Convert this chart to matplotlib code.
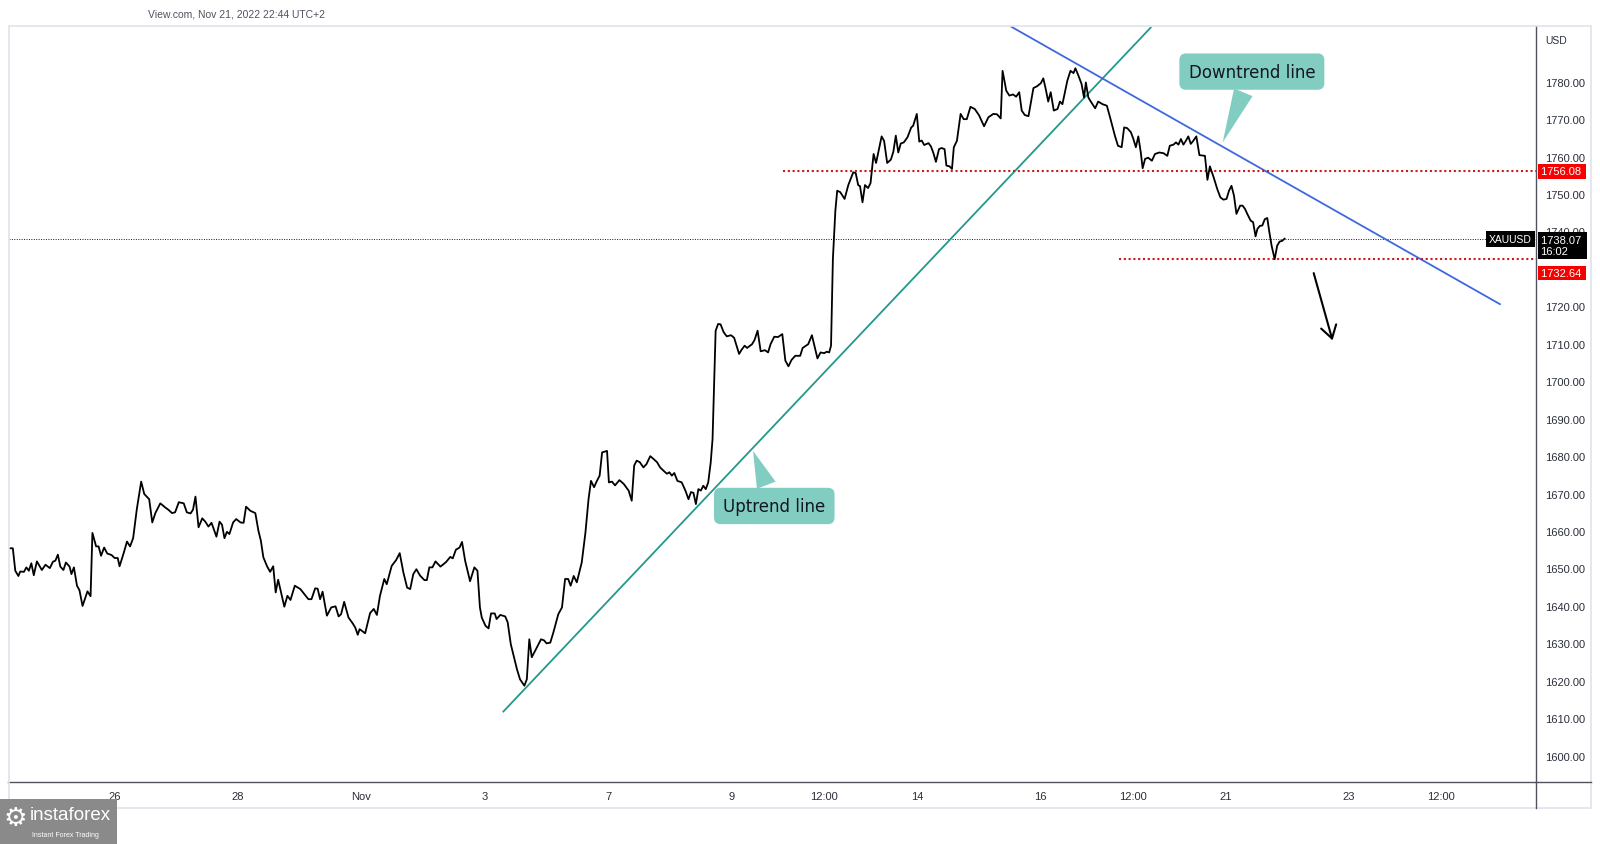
import matplotlib
matplotlib.use("Agg")
import matplotlib.pyplot as plt
import matplotlib.transforms as mtransforms
from matplotlib.patches import Rectangle
from matplotlib.lines import Line2D

# time axis in trading days, 0 = Oct 26 (weekends removed)
t_days = [
    -1.70, -1.65, -1.61, -1.56, -1.53, -1.47, -1.43, -1.39, -1.35, -1.31,
    -1.26, -1.18, -1.12, -1.05, -1.00, -0.96, -0.92, -0.88, -0.83, -0.79,
    -0.73, -0.70, -0.66, -0.61, -0.57, -0.52, -0.44, -0.39, -0.36, -0.30,
    -0.26, -0.22, -0.17, -0.12, -0.05, 0.00, 0.05, 0.08, 0.15, 0.20,
    0.25, 0.30, 0.36, 0.43, 0.48, 0.56, 0.61, 0.66, 0.74, 0.82,
    0.87, 0.93, 0.98, 1.04, 1.12, 1.17, 1.23, 1.27, 1.31, 1.36,
    1.42, 1.47, 1.52, 1.57, 1.65, 1.70, 1.74, 1.78, 1.82, 1.86,
    1.92, 1.97, 2.04, 2.09, 2.13, 2.20, 2.28, 2.33, 2.37, 2.41,
    2.47, 2.52, 2.57, 2.61, 2.65, 2.75, 2.80, 2.85, 2.92, 3.01,
    3.14, 3.19, 3.25, 3.29, 3.33, 3.37, 3.44, 3.51, 3.58, 3.63,
    3.67, 3.72, 3.79, 3.86, 3.90, 3.94, 3.97, 4.06, 4.14, 4.20,
    4.25, 4.30, 4.37, 4.41, 4.49, 4.56, 4.62, 4.68, 4.74, 4.79,
    4.84, 4.89, 4.95, 5.02, 5.06, 5.10, 5.15, 5.20, 5.28, 5.37,
    5.44, 5.48, 5.53, 5.59, 5.63, 5.68, 5.76, 5.83, 5.88, 5.92,
    5.95, 6.01, 6.06, 6.10, 6.16, 6.19, 6.25, 6.33, 6.37, 6.42,
    6.52, 6.57, 6.64, 6.68, 6.72, 6.76, 6.83, 6.91, 6.96, 7.00,
    7.06, 7.11, 7.19, 7.25, 7.30, 7.35, 7.39, 7.44, 7.49, 7.57,
    7.63, 7.68, 7.72, 7.77, 7.81, 7.86, 7.90, 7.98, 8.01, 8.06,
    8.11, 8.18, 8.25, 8.33, 8.38, 8.42, 8.46, 8.51, 8.57, 8.62,
    8.68, 8.73, 8.79, 8.84, 8.89, 8.95, 8.99, 9.03, 9.07, 9.12,
    9.19, 9.25, 9.30, 9.34, 9.38, 9.42, 9.46, 9.50, 9.54, 9.58,
    9.62, 9.66, 9.69, 9.72, 9.74, 9.78, 9.82, 9.87, 9.92, 9.99,
    10.04, 10.12, 10.16, 10.21, 10.25, 10.33, 10.37, 10.42, 10.47, 10.54,
    10.59, 10.63, 10.69, 10.75, 10.82, 10.87, 10.92, 10.97, 11.03, 11.11,
    11.15, 11.24, 11.30, 11.34, 11.39, 11.44, 11.50, 11.54, 11.58, 11.61,
    11.64, 11.68, 11.71, 11.76, 11.83, 11.89, 11.97, 12.01, 12.05, 12.08,
    12.12, 12.16, 12.21, 12.25, 12.30, 12.34, 12.39, 12.43, 12.47, 12.52,
    12.58, 12.62, 12.66, 12.70, 12.74, 12.79, 12.85, 12.91, 12.94, 13.00,
    13.04, 13.08, 13.12, 13.19, 13.23, 13.27, 13.31, 13.36, 13.40, 13.45,
    13.48, 13.53, 13.57, 13.60, 13.65, 13.71, 13.76, 13.81, 13.87, 13.94,
    14.01, 14.09, 14.16, 14.24, 14.30, 14.36, 14.39, 14.45, 14.50, 14.56,
    14.61, 14.66, 14.70, 14.75, 14.81, 14.85, 14.89, 14.95, 15.01, 15.05,
    15.09, 15.13, 15.17, 15.22, 15.28, 15.32, 15.36, 15.40, 15.44, 15.49,
    15.54, 15.57, 15.62, 15.67, 15.71, 15.74, 15.78, 15.82, 15.89, 15.94,
    16.01, 16.08, 16.14, 16.21, 16.26, 16.32, 16.36, 16.41, 16.47, 16.51,
    16.55, 16.59, 16.63, 16.66, 16.70, 16.75, 16.81, 16.86, 16.93, 17.00,
    17.06, 17.10, 17.16, 17.20, 17.24, 17.28, 17.32, 17.36, 17.40, 17.44,
    17.48, 17.53, 17.58, 17.63, 17.67, 17.71, 17.75, 17.81, 17.87, 17.92,
    17.97, 18.02, 18.06, 18.10, 18.14, 18.18, 18.24, 18.28, 18.32, 18.35,
    18.41, 18.45, 18.49, 18.52, 18.56, 18.60, 18.64, 18.68, 18.71, 18.75,
    18.80, 18.84, 18.88, 18.92, 18.96,
]

xau_price = [
    1655.4, 1655.4, 1649.4, 1648.0, 1649.2, 1649.1, 1650.3, 1649.4, 1651.4, 1648.2,
    1651.9, 1649.6, 1651.0, 1650.1, 1651.8, 1652.1, 1653.7, 1650.5, 1649.6, 1651.6,
    1650.5, 1648.5, 1650.3, 1645.4, 1644.2, 1640.0, 1643.9, 1642.6, 1659.5, 1655.9,
    1655.9, 1653.4, 1655.6, 1654.0, 1653.6, 1652.8, 1652.8, 1650.6, 1654.3, 1657.2,
    1655.9, 1658.1, 1665.9, 1673.2, 1669.9, 1668.5, 1662.3, 1664.8, 1667.4, 1666.3,
    1665.7, 1664.8, 1665.0, 1667.7, 1667.4, 1665.0, 1664.7, 1665.7, 1669.2, 1661.0,
    1663.4, 1662.5, 1661.2, 1662.2, 1658.5, 1662.5, 1661.7, 1658.1, 1659.8, 1659.2,
    1662.3, 1663.2, 1662.3, 1662.2, 1666.5, 1665.4, 1664.8, 1660.1, 1657.4, 1653.0,
    1650.6, 1649.1, 1650.6, 1643.6, 1647.0, 1639.8, 1642.7, 1641.6, 1645.4, 1644.5,
    1641.8, 1641.8, 1644.7, 1644.6, 1641.8, 1643.8, 1637.4, 1639.6, 1639.9, 1637.2,
    1637.8, 1641.1, 1636.9, 1635.3, 1634.2, 1632.3, 1633.8, 1632.7, 1638.1, 1639.2,
    1637.6, 1642.7, 1647.2, 1645.8, 1650.7, 1652.2, 1654.1, 1648.9, 1644.9, 1644.5,
    1648.5, 1649.8, 1648.1, 1646.9, 1646.9, 1650.3, 1650.3, 1651.9, 1650.5, 1651.7,
    1653.1, 1652.7, 1655.0, 1655.6, 1657.1, 1652.1, 1646.6, 1650.3, 1649.4, 1639.6,
    1636.9, 1634.7, 1634.0, 1638.0, 1638.0, 1636.5, 1637.6, 1637.2, 1635.6, 1629.8,
    1623.1, 1620.4, 1618.7, 1620.4, 1631.1, 1626.3, 1628.5, 1631.1, 1630.8, 1630.0,
    1630.2, 1632.9, 1637.8, 1639.6, 1647.2, 1647.2, 1645.4, 1648.0, 1646.3, 1651.6,
    1659.6, 1668.5, 1673.4, 1671.7, 1673.2, 1674.8, 1681.0, 1681.4, 1673.0, 1673.2,
    1672.2, 1673.6, 1672.6, 1670.8, 1668.1, 1677.5, 1678.8, 1678.4, 1677.0, 1677.9,
    1680.0, 1679.3, 1678.4, 1677.0, 1676.2, 1675.3, 1675.7, 1674.8, 1675.5, 1673.4,
    1673.0, 1670.8, 1668.5, 1670.4, 1670.2, 1667.2, 1671.2, 1670.8, 1672.1, 1671.2,
    1673.0, 1678.3, 1684.6, 1701.5, 1713.5, 1715.3, 1715.2, 1713.1, 1712.0, 1712.3,
    1711.6, 1707.3, 1708.4, 1709.5, 1708.9, 1709.9, 1711.0, 1713.5, 1708.0, 1708.3,
    1707.7, 1709.9, 1711.9, 1711.8, 1712.6, 1705.5, 1704.0, 1705.7, 1706.8, 1706.8,
    1708.9, 1709.9, 1712.3, 1709.5, 1706.1, 1707.7, 1707.5, 1707.9, 1707.7, 1709.5,
    1732.6, 1745.5, 1750.9, 1750.5, 1748.7, 1752.4, 1755.8, 1755.6, 1752.4, 1752.1,
    1747.8, 1752.4, 1751.6, 1752.9, 1760.7, 1758.3, 1762.2, 1765.4, 1764.2, 1758.3,
    1759.2, 1761.3, 1765.6, 1761.1, 1763.5, 1763.8, 1765.2, 1767.8, 1768.2, 1771.4,
    1764.0, 1764.3, 1763.1, 1763.6, 1762.7, 1760.9, 1758.6, 1762.0, 1762.3, 1762.0,
    1757.6, 1757.4, 1756.7, 1762.5, 1764.2, 1771.4, 1770.0, 1770.0, 1773.3, 1772.7,
    1771.0, 1768.1, 1770.5, 1771.4, 1771.3, 1770.2, 1782.9, 1777.6, 1776.3, 1776.6,
    1776.0, 1777.2, 1772.3, 1771.1, 1770.8, 1774.5, 1778.3, 1778.8, 1779.6, 1780.9,
    1778.0, 1774.7, 1777.2, 1772.3, 1772.7, 1774.7, 1774.0, 1777.2, 1780.3, 1782.9,
    1782.3, 1783.6, 1781.6, 1779.4, 1775.8, 1779.8, 1775.8, 1774.7, 1772.9, 1774.7,
    1774.0, 1773.6, 1770.0, 1765.6, 1762.9, 1762.5, 1767.8, 1767.6, 1766.5, 1764.7,
    1762.5, 1765.4, 1761.1, 1756.9, 1759.4, 1759.7, 1758.9, 1760.7, 1761.1, 1760.9,
    1760.2, 1762.9, 1763.2, 1763.8, 1763.2, 1764.7, 1763.2, 1764.2, 1765.4, 1763.4,
    1764.2, 1765.4, 1760.4, 1760.3, 1760.2, 1753.8, 1757.4, 1754.5, 1751.3, 1749.1,
    1748.5, 1748.7, 1750.9, 1752.2, 1749.6, 1744.7, 1746.9, 1746.9, 1746.0, 1744.9,
    1742.9, 1742.5, 1738.7, 1740.7, 1741.5, 1741.6, 1743.3, 1743.6, 1740.2, 1736.2,
    1732.6, 1736.2, 1737.3, 1737.5, 1738.07,
]

# x axis ticks (trading-day positions and labels)
tick_pos = [0, 2, 4, 6, 8, 10, 11.5, 13, 15, 16.5, 18, 20, 21.5]
tick_lab = ["26", "28", "Nov", "3", "7", "9", "12:00", "14", "16", "12:00", "21", "23", "12:00"]
price_ticks = list(range(1600, 1790, 10))
hidden_ticks = [1730]  # covered by the support price tag in the original

# drawn trend lines: (day, price) anchors
uptrend_t = [6.30, 16.79]
uptrend_p = [1611.8, 1794.45]
downtrend_t = [14.53, 22.45]
downtrend_p = [1794.7, 1720.6]

# horizontal levels
resistance = 1756.08
support = 1732.64
last_price = 1738.07
resistance_start = 10.83
support_start = 16.28

# forecast arrow
arrow_t = [19.42, 19.75]
arrow_p = [1729.6, 1710.2]

assert len(t_days) == len(xau_price)

W, H = 1600, 845
fig = plt.figure(figsize=(W / 100, H / 100), dpi=100)
fig.patch.set_facecolor("white")

# plot area in pixels
px_l, px_r, px_t, px_b = 8.5, 1535.7, 26.7, 782.7
ax = fig.add_axes([px_l / W, 1 - px_b / H, (px_r - px_l) / W, (px_b - px_t) / H])
ax.set_xlim(-1.72, 23.03)
ax.set_ylim(1593.06, 1794.96)

tick_font = "Liberation Sans"
label_col = "#2a2e39"

ax.plot(t_days, xau_price, color="black", lw=1.3, zorder=4, solid_joinstyle="round")

ax.plot(uptrend_t, uptrend_p, color="#22998a", lw=1.3, zorder=3)
ax.plot(downtrend_t, downtrend_p, color="#3f68df", lw=1.3, zorder=3)

red_dot = (0, (1, 1.3))
ax.plot([resistance_start, 23.03], [resistance, resistance], color="#c81b1b", lw=1.5,
        ls=red_dot, zorder=3)
ax.plot([support_start, 23.03], [support, support], color="#c81b1b", lw=1.5,
        ls=red_dot, zorder=3)
ax.axhline(last_price, color="#131722", lw=0.7, ls=(0, (1, 1.5)), zorder=2)

ax.annotate("", xy=(arrow_t[1], arrow_p[1]), xytext=(arrow_t[0], arrow_p[0]),
            arrowprops=dict(arrowstyle="->,head_length=0.45,head_width=0.28",
                            color="black", lw=1.5, mutation_scale=20))

# callouts
callout_fc = "#82cdc1"
ax.annotate("Uptrend line", xy=(10.33, 1682.1), xytext=(10.69, 1666.7),
            ha="center", va="center", fontsize=12, color="#131722",
            bbox=dict(boxstyle="round,pad=0.55,rounding_size=0.4", fc=callout_fc, ec="none"),
            arrowprops=dict(arrowstyle="wedge,tail_width=1.2", fc=callout_fc, ec="none"),
            zorder=6)
ax.annotate("Downtrend line", xy=(17.94, 1763.1), xytext=(18.43, 1782.7),
            ha="center", va="center", fontsize=12, color="#131722",
            bbox=dict(boxstyle="round,pad=0.55,rounding_size=0.4", fc=callout_fc, ec="none"),
            arrowprops=dict(arrowstyle="wedge,tail_width=1.2", fc=callout_fc, ec="none"),
            zorder=6)

# axes styling
ax.set_facecolor("white")
for side in ["top", "left"]:
    ax.spines[side].set_visible(False)
ax.spines["right"].set_color("#50535e")
ax.spines["bottom"].set_color("#50535e")
ax.spines["right"].set_linewidth(1.0)
ax.spines["bottom"].set_linewidth(1.0)

ax.yaxis.tick_right()
ax.set_yticks(price_ticks)
ax.set_yticklabels(["" if v in hidden_ticks else f"{v:.2f}" for v in price_ticks])
ax.set_xticks(tick_pos)
ax.set_xticklabels(tick_lab)
ax.tick_params(axis="y", length=0, pad=7, labelsize=8, labelcolor=label_col)
ax.tick_params(axis="x", length=0, pad=7, labelsize=8, labelcolor=label_col)
for lab in ax.get_xticklabels() + ax.get_yticklabels():
    lab.set_family(tick_font)

# price labels on the right scale
trans = mtransforms.blended_transform_factory(ax.transAxes, ax.transData)
box_kw = dict(xycoords=trans, textcoords="offset points", ha="left", va="center",
              fontsize=8, color="white", family=tick_font, annotation_clip=False)
ax.annotate(f"{resistance:.2f} ", xy=(1, resistance), xytext=(3.5, 0),
            bbox=dict(boxstyle="square,pad=0.2", fc="#f70000", ec="none"), zorder=7, **box_kw)
ax.annotate(f"{support:.2f} ", xy=(1, support), xytext=(3.5, -10.2),
            bbox=dict(boxstyle="square,pad=0.2", fc="#f70000", ec="none"), zorder=7, **box_kw)
ax.annotate(f"{last_price:.2f} \n16:02", xy=(1, last_price), xytext=(3.5, -5.0),
            linespacing=1.2,
            bbox=dict(boxstyle="square,pad=0.25", fc="black", ec="none"), zorder=8, **box_kw)
ax.annotate("XAUUSD", xy=(1, last_price), xycoords=trans,
            xytext=(-3.0, 0), textcoords="offset points", ha="right", va="center",
            fontsize=7.5, color="white", family=tick_font, annotation_clip=False,
            bbox=dict(boxstyle="square,pad=0.3", fc="black", ec="none"), zorder=8)

# frame around chart + price scale panel
fig.add_artist(Rectangle((8.5 / W, 1 - 809 / H), (1591 - 8.5) / W, (809 - 26.7) / H,
                         transform=fig.transFigure, fill=False, ec="#e0e3eb", lw=1.2))
fig.add_artist(Line2D([px_r / W, px_r / W], [1 - 809 / H, 1 - px_b / H],
                      transform=fig.transFigure, color="#50535e", lw=1.0))
fig.add_artist(Line2D([px_r / W, 1591 / W], [1 - px_b / H, 1 - px_b / H],
                      transform=fig.transFigure, color="#50535e", lw=1.0))

fig.text(1545 / W, 1 - 40.7 / H, "USD", fontsize=7.5, color=label_col,
         family=tick_font, ha="left", va="center")
fig.text(148 / W, 1 - 14.3 / H, "View.com, Nov 21, 2022 22:44 UTC+2", fontsize=7.5,
         color="#50535e", family=tick_font, ha="left", va="center")

# instaforex logo block
fig.add_artist(Rectangle((0, 0), 117 / W, 45 / H, transform=fig.transFigure,
                         fc="#8a8a8a", ec="none"))
fig.text(15 / W, 1 - 819 / H, "\u2699", fontsize=19, color="white",
         family="DejaVu Sans", ha="center", va="center")
fig.text(30 / W, 1 - 816 / H, "instaforex", fontsize=13.5, color="white",
         family=tick_font, ha="left", va="center")
fig.text(32 / W, 1 - 836 / H, "Instant Forex Trading", fontsize=5, color="white",
         family=tick_font, ha="left", va="center")

fig.savefig("out.png", dpi=100, facecolor="white")
